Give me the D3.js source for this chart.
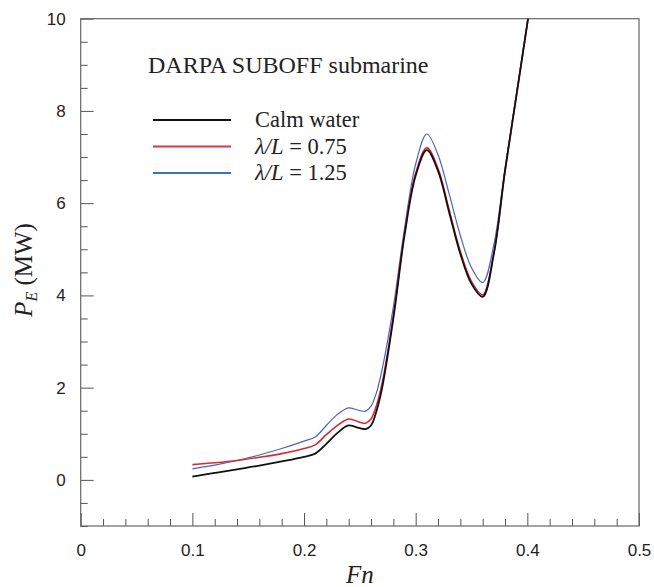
<!DOCTYPE html>
<html>
  <head>
    <meta charset="utf-8">
    <title>DARPA SUBOFF effective power</title>
    <script src="https://cdn.jsdelivr.net/npm/d3@7"></script>
    <style>
      body { margin: 0; background: #fff; }
      .tick text { font-family: "Liberation Sans", Arial, sans-serif; font-size: 17px; fill: #222; }
      .tick line { stroke: #555; }
      .serif { font-family: "Liberation Serif", "Times New Roman", serif; fill: #222; }
    </style>
  </head>

  <body>
    <div id="container"></div>

    <script>
      // data
      fn = [0.10, 0.12, 0.14, 0.16, 0.18, 0.20, 0.21, 0.22, 0.23, 0.24, 0.25, 0.255, 0.26, 0.265, 0.27, 0.28, 0.29, 0.30, 0.31, 0.32, 0.33, 0.34, 0.35, 0.36, 0.37, 0.38, 0.39, 0.40, 0.41];
      calmWater = [0.07, 0.15, 0.23, 0.31, 0.40, 0.50, 0.57, 0.78, 1.02, 1.18, 1.12, 1.10, 1.18, 1.50, 2.00, 3.50, 5.30, 6.60, 7.15, 6.70, 5.80, 4.90, 4.25, 3.97, 4.90, 6.70, 8.30, 9.90, 11.50];
      wave075 = [0.33, 0.37, 0.42, 0.49, 0.57, 0.68, 0.76, 0.98, 1.18, 1.32, 1.25, 1.23, 1.32, 1.62, 2.10, 3.55, 5.35, 6.65, 7.20, 6.75, 5.85, 4.95, 4.30, 4.01, 4.92, 6.70, 8.30, 9.90, 11.50];
      wave125 = [0.24, 0.32, 0.42, 0.54, 0.68, 0.84, 0.93, 1.18, 1.42, 1.56, 1.50, 1.49, 1.60, 1.90, 2.40, 3.75, 5.45, 6.85, 7.50, 7.05, 6.20, 5.30, 4.60, 4.28, 5.10, 6.75, 8.32, 9.92, 11.50];

      xTicks = [0, 0.1, 0.2, 0.3, 0.4, 0.5];
      yTicks = [0, 2, 4, 6, 8, 10];

      series = [
        {name: "wave125", values: wave125, colour: "#4a64c4", width: 1.2},
        {name: "wave075", values: wave075, colour: "#d8282e", width: 1.6},
        {name: "calm", values: calmWater, colour: "#111111", width: 1.8}
      ];

      legendItems = [
        {label: ["Calm water"], colour: "#111111", width: 2.2},
        {label: ["\u03bb/L", " = 0.75"], colour: "#e0353a", width: 2.2},
        {label: ["\u03bb/L", " = 1.25"], colour: "#3a72c8", width: 2.2}
      ];

      width = 654;
      height = 587;
      margin = {top: 18.7, right: 15, bottom: 61, left: 80.7};

      svg = d3.select("#container")
        .append("svg")
          .attr("width", width)
          .attr("height", height);

      xScale = d3.scaleLinear()
        .domain([0, 0.5])
        .range([margin.left, width - margin.right]);
      yScale = d3.scaleLinear()
        .domain([-1, 10])
        .range([height - margin.bottom, margin.top]);

      // minor ticks
      xMinor = d3.range(0, 0.5001, 0.02).filter(v => Math.abs(v * 10 - Math.round(v * 10)) > 1e-6);
      yMinor = d3.range(-1, 10.001, 0.5).filter(v => Math.abs(v / 2 - Math.round(v / 2)) > 1e-6);

      svg.append("g")
        .attr("transform", "translate(0, " + yScale(-1) + ")")
        .call(d3.axisBottom(xScale).tickValues(xMinor).tickSize(-7).tickFormat(""))
        .call(g => g.select(".domain").remove());
      svg.append("g")
        .attr("transform", "translate(0, " + yScale(-1) + ")")
        .call(d3.axisBottom(xScale)
          .tickValues(xTicks)
          .tickSize(-13)
          .tickPadding(14)
          .tickFormat(d => d === 0 ? "0" : d3.format(".1f")(d))
        )
        .call(g => g.select(".domain").remove())
        .call(g => g.selectAll(".tick text").attr("dy", "0.95em"));

      svg.append("g")
        .attr("transform", "translate(" + xScale(0) + ", 0)")
        .call(d3.axisLeft(yScale).tickValues(yMinor).tickSize(-7).tickFormat(""))
        .call(g => g.select(".domain").remove());
      svg.append("g")
        .attr("transform", "translate(" + xScale(0) + ", 0)")
        .call(d3.axisLeft(yScale)
          .tickValues(yTicks)
          .tickSize(-13)
          .tickPadding(15)
          .tickFormat(d3.format("d"))
        )
        .call(g => g.select(".domain").remove());

      // frame
      svg.append("rect")
        .attr("x", xScale(0))
        .attr("y", yScale(10))
        .attr("width", xScale(0.5) - xScale(0))
        .attr("height", yScale(-1) - yScale(10))
        .style("fill", "none")
        .style("stroke", "#666")
        .style("stroke-width", 1.2);

      // curves
      svg.append("clipPath")
        .attr("id", "plotClip")
        .append("rect")
          .attr("x", xScale(0))
          .attr("y", yScale(10))
          .attr("width", xScale(0.5) - xScale(0))
          .attr("height", yScale(-1) - yScale(10));

      line = d3.line()
        .x((d, i) => xScale(fn[i]))
        .y(d => yScale(d))
        .curve(d3.curveCatmullRom.alpha(0.5));

      svg.append("g")
        .attr("clip-path", "url(#plotClip)")
        .selectAll("path")
          .data(series)
        .enter().append("path")
          .attr("d", d => line(d.values))
          .style("fill", "none")
          .style("stroke", d => d.colour)
          .style("stroke-width", d => d.width)
          .style("stroke-linejoin", "round");

      // legend
      svg.append("text")
        .classed("serif", true)
        .attr("x", 148)
        .attr("y", 73)
        .style("font-size", "24px")
        .text("DARPA SUBOFF submarine");

      legend = svg.append("g")
        .selectAll("g")
          .data(legendItems)
        .enter().append("g")
          .attr("transform", (d, i) => "translate(0, " + (120 + i * 26.5) + ")");

      legend.append("line")
        .attr("x1", 153)
        .attr("x2", 231)
        .style("stroke", d => d.colour)
        .style("stroke-width", d => d.width);

      legendText = legend.append("text")
        .classed("serif", true)
        .attr("x", 255)
        .attr("y", 7)
        .style("font-size", "22.5px");

      legendText.selectAll("tspan")
        .data(d => d.label.length > 1 ? d.label.map((t, j) => ({t: t, italic: j === 0})) : [{t: d.label[0], italic: false}])
        .enter().append("tspan")
          .style("font-style", d => d.italic ? "italic" : "normal")
          .text(d => d.t);

      // axis titles
      svg.append("text")
        .classed("serif", true)
        .attr("x", (xScale(0) + xScale(0.5)) / 2)
        .attr("y", 583)
        .attr("text-anchor", "middle")
        .style("font-size", "25px")
        .style("font-style", "italic")
        .text("Fn");

      yTitle = svg.append("text")
        .classed("serif", true)
        .attr("transform", "translate(32, 270) rotate(-90)")
        .attr("text-anchor", "middle")
        .style("font-size", "25px");
      yTitle.append("tspan")
        .style("font-style", "italic")
        .text("P");
      yTitle.append("tspan")
        .style("font-style", "italic")
        .style("font-size", "16px")
        .attr("dy", 5)
        .text("E");
      yTitle.append("tspan")
        .attr("dy", -5)
        .text(" (MW)");
    </script>
  </body>
</html>
